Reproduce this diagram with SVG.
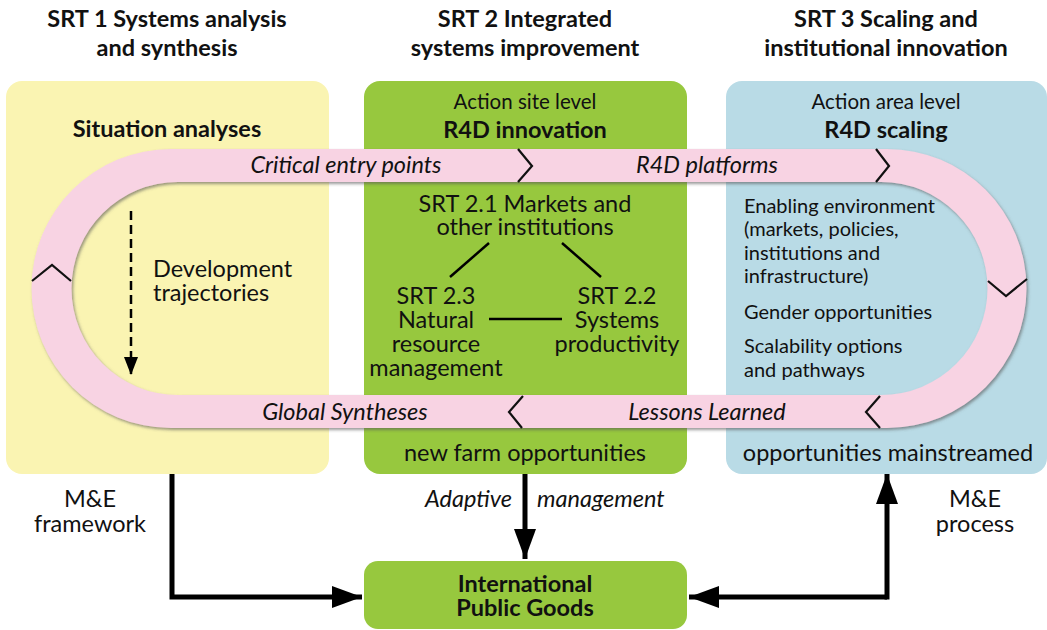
<svg xmlns="http://www.w3.org/2000/svg" width="1047" height="630" viewBox="0 0 1047 630">
<style>
text{font-family:Lato,"Noto Sans","Liberation Sans",sans-serif;fill:#111;}
.c{text-anchor:middle;}
.e{text-anchor:end;}
.h{font-size:23.5px;font-weight:bold;}
.b{font-size:23.5px;font-weight:bold;}
.s{font-size:20.5px;}
.m{font-size:23.5px;}
.l{font-size:20px;}
.i{font-size:23.5px;font-style:italic;}
.chev{fill:none;stroke:#111;stroke-width:2.2;}
.thick{fill:none;stroke:#000;stroke-width:5;}
</style>
<defs>
<filter id="sh" x="-5%" y="-5%" width="110%" height="115%">
<feDropShadow dx="1.5" dy="2" stdDeviation="1.5" flood-color="#555" flood-opacity="0.6"/>
</filter>
<marker id="ah" markerUnits="userSpaceOnUse" markerWidth="30" markerHeight="22" refX="30" refY="11" orient="auto">
<path d="M0,0 L30,11 L0,22 Z" fill="#000"/>
</marker>
<marker id="ahs" markerUnits="userSpaceOnUse" markerWidth="18" markerHeight="16" refX="18" refY="8" orient="auto">
<path d="M0,1 L18,8 L0,15 Z" fill="#000"/>
</marker>
</defs>
<rect width="1047" height="630" fill="#fff"/>

<g id="headers">
<text class="h c" x="167" y="27">SRT 1 Systems analysis</text>
<text class="h c" x="167" y="56">and synthesis</text>
<text class="h c" x="525" y="27">SRT 2 Integrated</text>
<text class="h c" x="525" y="56">systems improvement</text>
<text class="h c" x="886" y="27">SRT 3 Scaling and</text>
<text class="h c" x="886" y="56">institutional innovation</text>
</g>

<g id="srt1">
<rect x="6" y="81" width="323" height="393" rx="16" fill="#faf4b2"/>
</g>
<g id="srt2">
<rect x="364" y="81" width="323" height="393" rx="16" fill="#97c83e"/>
</g>
<g id="srt3">
<rect x="726" y="81" width="321" height="393" rx="16" fill="#b9dbe6"/>
</g>

<g id="loop">
<path filter="url(#sh)" fill="#f8d3e3" fill-rule="evenodd" d="M171,149 H887 A139.5,139.5 0 0 1 887,428 H171 A139.5,139.5 0 0 1 171,149 Z M178,182 H881 A106.5,106.5 0 0 1 881,395 H178 A106.5,106.5 0 0 1 178,182 Z"/>
<path class="chev" d="M518,149 L532,166 L518,182"/>
<path class="chev" d="M876,149 L889,166 L876,182"/>
<path class="chev" d="M988,281 L1006,296 L1027,279"/>
<path class="chev" d="M880,396 L866,412 L880,428"/>
<path class="chev" d="M523,396 L509,412 L522,428"/>
<path class="chev" d="M32,281 L52,265 L71,281"/>
<text class="i c" x="346" y="173">Critical entry points</text>
<text class="i c" x="707" y="173">R4D platforms</text>
<text class="i c" x="345" y="420">Global Syntheses</text>
<text class="i c" x="707" y="420">Lessons Learned</text>
</g>

<g id="srt1-content">
<text class="b c" x="167" y="137">Situation analyses</text>
<line x1="131" y1="211" x2="131" y2="375" stroke="#000" stroke-width="2.5" stroke-dasharray="9,5" marker-end="url(#ahs)"/>
<text class="m" x="153" y="277">Development</text>
<text class="m" x="153" y="301">trajectories</text>
</g>

<g id="srt2-content">
<text class="s c" x="525" y="109">Action site level</text>
<text class="b c" x="525" y="138">R4D innovation</text>
<text class="m c" x="525" y="212">SRT 2.1 Markets and</text>
<text class="m c" x="525" y="235">other institutions</text>
<line x1="489" y1="243" x2="450" y2="277" stroke="#000" stroke-width="2.5"/>
<line x1="562" y1="243" x2="601" y2="277" stroke="#000" stroke-width="2.5"/>
<line x1="489" y1="319" x2="562" y2="319" stroke="#000" stroke-width="2.5"/>
<text class="m c" x="436" y="304">SRT 2.3</text>
<text class="m c" x="436" y="328">Natural</text>
<text class="m c" x="436" y="352">resource</text>
<text class="m c" x="436" y="376">management</text>
<text class="m c" x="617" y="304">SRT 2.2</text>
<text class="m c" x="617" y="328">Systems</text>
<text class="m c" x="617" y="352">productivity</text>
<text class="m c" x="525" y="461">new farm opportunities</text>
</g>

<g id="srt3-content">
<text class="s c" x="886" y="109">Action area level</text>
<text class="b c" x="886" y="138">R4D scaling</text>
<text class="l" x="744" y="213">Enabling environment</text>
<text class="l" x="744" y="236">(markets, policies,</text>
<text class="l" x="744" y="260">institutions and</text>
<text class="l" x="744" y="283">infrastructure)</text>
<text class="l" x="744" y="319">Gender opportunities</text>
<text class="l" x="744" y="353">Scalability options</text>
<text class="l" x="744" y="377">and pathways</text>
<text class="m c" x="888" y="461">opportunities mainstreamed</text>
</g>

<g id="ipg">
<rect x="364" y="561" width="323" height="68" rx="14" fill="#97c83e"/>
<text class="b c" x="525" y="592">International</text>
<text class="b c" x="525" y="616">Public Goods</text>
</g>

<g id="connectors">
<path class="thick" d="M172,474 V597 H362" marker-end="url(#ah)"/>
<path class="thick" d="M525,474 V559" marker-end="url(#ah)"/>
<path class="thick" d="M887,597 H689" marker-end="url(#ah)"/>
<path class="thick" d="M887,599.5 V474" marker-end="url(#ah)"/>
</g>

<g id="labels">
<text class="m c" x="90" y="507">M&amp;E</text>
<text class="m c" x="90" y="532">framework</text>
<text class="i e" x="512" y="507">Adaptive</text>
<text class="i" x="537" y="507">management</text>
<text class="m c" x="975" y="507">M&amp;E</text>
<text class="m c" x="975" y="532">process</text>
</g>
</svg>
